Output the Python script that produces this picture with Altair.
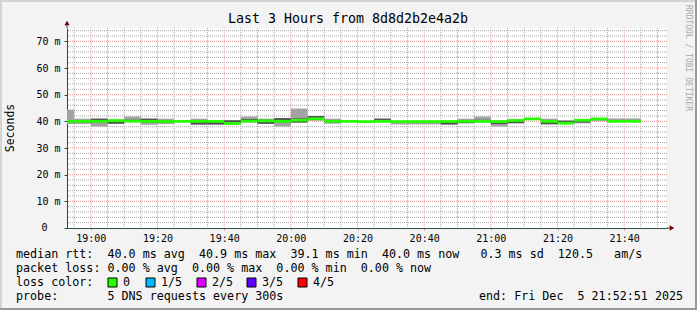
import altair as alt
import pandas as pd

# ---------------- data ----------------
bin_starts = ["18:50", "18:55", "19:00", "19:05", "19:10", "19:15", "19:20",
              "19:25", "19:30", "19:35", "19:40", "19:45", "19:50", "19:55",
              "20:00", "20:05", "20:10", "20:15", "20:20", "20:25", "20:30",
              "20:35", "20:40", "20:45", "20:50", "20:55", "21:00", "21:05",
              "21:10", "21:15", "21:20", "21:25", "21:30", "21:35", "21:40"]
ping_min = [39.0, 39.0, 38.1, 39.1, 39.7, 38.7, 39.0, 39.7, 38.8, 38.8, 38.9,
            39.6, 39.0, 38.1, 39.4, 40.4, 39.1, 39.8, 39.4, 39.7, 38.8, 38.8,
            38.8, 38.8, 39.3, 39.6, 38.1, 39.3, 40.5, 38.9, 39.0, 39.2, 40.3,
            39.8, 39.8]
ping_q1 = [39.6, 39.7, 39.6, 39.1, 39.8, 39.6, 39.6, 39.8, 38.8, 38.8, 39.0,
           39.7, 39.1, 39.6, 39.6, 40.4, 39.6, 39.9, 39.6, 39.8, 39.6, 39.6,
           39.6, 38.8, 39.3, 39.7, 39.0, 39.3, 40.6, 38.9, 39.1, 39.6, 40.4,
           39.9, 39.9]
ping_med = [40.0, 40.0, 40.0, 40.25, 40.05, 40.0, 39.95, 40.0, 40.0, 40.0, 39.2,
            40.1, 40.2, 40.0, 40.4, 40.95, 40.0, 40.0, 39.9, 40.0, 39.9, 39.9,
            39.9, 39.95, 40.0, 40.0, 39.9, 40.3, 40.9, 40.0, 39.3, 40.4, 40.9,
            40.0, 40.0]
ping_q3 = [40.4, 40.3, 41.0, 40.6, 40.6, 41.0, 40.4, 40.2, 40.4, 40.2, 40.4,
           40.9, 40.6, 41.2, 41.1, 42.0, 40.4, 40.1, 40.1, 41.0, 40.1, 40.1,
           40.1, 40.1, 40.4, 40.6, 40.2, 40.6, 41.2, 40.4, 40.2, 40.6, 41.1,
           40.3, 40.3]
ping_max = [44.4, 41.0, 41.0, 40.6, 41.8, 41.0, 41.0, 40.3, 41.0, 40.3, 40.4,
            41.8, 41.0, 41.2, 44.8, 42.0, 41.0, 40.2, 40.2, 41.0, 40.2, 40.2,
            40.2, 40.2, 41.0, 41.8, 40.3, 40.7, 41.3, 41.0, 40.4, 40.7, 41.2,
            41.1, 41.1]

y_ticks = [0, 10, 20, 30, 40, 50, 60, 70]
x_tick_labels = ["19:00", "19:20", "19:40", "20:00", "20:20", "20:40",
                 "21:00", "21:20", "21:40"]
range_start, range_end = "18:52:51", "21:52:51"

title_text = "Last 3 Hours from 8d8d2b2e4a2b"
legend_line1 = "median rtt:  40.0 ms avg  40.9 ms max  39.1 ms min  40.0 ms now   0.3 ms sd  120.5   am/s"
legend_line2 = "packet loss: 0.00 % avg  0.00 % max  0.00 % min  0.00 % now"
legend_line3 = "loss color:"
legend_line4 = "probe:       5 DNS requests every 300s"
end_text = "end: Fri Dec  5 21:52:51 2025"
loss_labels = ["0", "1/5", "2/5", "3/5", "4/5"]
loss_colors = ["#26ff00", "#00b8ff", "#dd00ff", "#5e00ff", "#ff0000"]
watermark = "RRDTOOL / TOBI OETIKER"

# ---------------- helpers ----------------
def to_min(s):
    parts = [int(p) for p in s.split(":")]
    m = (parts[0] - 18) * 60 + parts[1]
    if len(parts) > 2:
        m += parts[2] / 60.0
    return m

MONO = "DejaVu Sans Mono"
AXIS_COLOR = "#2c4d43"
ARROW = "#7f0000"
GRID = "#a8a8a8"
MGRID = "#f29494"
PL, PT = 67, 28          # plot origin in the page
W, H = 600, 200

x0, x1 = to_min(range_start), to_min(range_end)
xs = alt.Scale(domain=[x0, x1], nice=False, zero=False)
ys = alt.Scale(domain=[0, 75], nice=False, zero=True)

df = pd.DataFrame({
    "start": [to_min(s) for s in bin_starts],
    "lo": ping_min, "q1": ping_q1, "med": ping_med, "q3": ping_q3, "hi": ping_max,
})
df["end"] = df["start"] + 5

x_tick_values = [to_min(s) for s in x_tick_labels]
h_minor = pd.DataFrame({"v": [v for v in range(2, 75, 2) if v % 10]})
h_major = pd.DataFrame({"v": y_ticks[1:]})
v_minor = pd.DataFrame({"v": [v for v in range(55, 235, 5) if v % 20 and x0 < v < x1]})
v_major = pd.DataFrame({"v": x_tick_values})

yaxis = alt.Axis(values=y_ticks, title=None, grid=False,
                 labelExpr="datum.value == 0 ? '' : datum.value + ' m'",
                 labelFont=MONO, labelFontSize=10, labelColor="#000000",
                 tickColor=AXIS_COLOR, tickSize=3, labelPadding=4,
                 domainColor=AXIS_COLOR, domainWidth=1)
xaxis = alt.Axis(values=x_tick_values, title=None, grid=False,
                 labelExpr="format(floor(datum.value/60)+18,'d') + ':' + format(datum.value%60,'02d')",
                 labelFont=MONO, labelFontSize=10, labelColor="#000000",
                 tickColor="#e09090", tickSize=2, labelPadding=3, labelOverlap=False,
                 labelFlush=False, domainColor=AXIS_COLOR, domainWidth=1)

X = lambda f: alt.X(f, scale=xs, axis=xaxis)
Y = lambda f: alt.Y(f, scale=ys, axis=yaxis)

grid_hmin = alt.Chart(h_minor).mark_rule(color=GRID, strokeDash=[1, 1], strokeWidth=1).encode(y=Y("v:Q"))
grid_hmaj = alt.Chart(h_major).mark_rule(color=MGRID, strokeDash=[1, 1], strokeWidth=1).encode(y=Y("v:Q"))
grid_vmin = alt.Chart(v_minor).mark_rule(color=GRID, strokeDash=[1, 1], strokeWidth=1).encode(x=X("v:Q"))
grid_vmaj = alt.Chart(v_major).mark_rule(color=MGRID, strokeDash=[1, 1], strokeWidth=1).encode(x=X("v:Q"))

base = alt.Chart(df)
smoke_outer = base.mark_rect(color="#a3a3a3", clip=True).encode(
    x=X("start:Q"), x2="end", y=Y("lo:Q"), y2="hi")
smoke_inner = base.mark_rect(color="#505050", clip=True).encode(
    x=X("start:Q"), x2="end", y=Y("q1:Q"), y2="q3")
median = base.mark_rule(color=loss_colors[0], strokeWidth=2.8, clip=True).encode(
    x=X("start:Q"), x2="end", y=Y("med:Q"))

one = alt.Data(values=[{"k": 1}])

def txt(text, ax, ay, size=11.7, align="left", color="#000000", angle=0, font=MONO):
    return alt.Chart(one).mark_text(
        text=text.replace(" ", "\u00a0"), font=font, fontSize=size, align=align,
        baseline="middle", color=color, angle=angle).encode(
        x=alt.value(ax - PL), y=alt.value(ay - PT))

def rule(ax1, ay1, ax2, ay2, color, width=1):
    return alt.Chart(one).mark_rule(color=color, strokeWidth=width).encode(
        x=alt.value(ax1 - PL), x2=alt.value(ax2 - PL),
        y=alt.value(ay1 - PT), y2=alt.value(ay2 - PT))

def arrow(ax, ay, shape):
    return alt.Chart(one).mark_point(shape=shape, filled=True, size=28, color=ARROW, opacity=1).encode(
        x=alt.value(ax - PL), y=alt.value(ay - PT))

layers = [grid_hmin, grid_vmin, grid_hmaj, grid_vmaj, smoke_outer, smoke_inner, median]

# axis extensions and arrows
layers += [rule(PL, PT - 3, PL, PT, AXIS_COLOR), arrow(PL, PT - 5, "triangle-up"),
           rule(PL + W, PT + H, PL + W + 3, PT + H, AXIS_COLOR), arrow(PL + W + 5, PT + H, "triangle-right")]

# texts
layers += [txt(title_text, 348, 19, size=13.3, align="center"),
           txt("Seconds", 11, 128, size=11.5, align="center", angle=270),
           txt("0", 47.5, PT + H, size=10, align="right"),
           txt(legend_line1, 16, 254), txt(legend_line2, 16, 268),
           txt(legend_line3, 16, 282), txt(legend_line4, 16, 296),
           txt(end_text, 479, 296),
           txt(watermark, 688, 5, size=8, color="#a8a8a8", angle=90)]

square_left = [108, 146, 197, 247, 298]
for lab, col, sx in zip(loss_labels, loss_colors, square_left):
    layers.append(alt.Chart(one).mark_rect(fill=col, stroke="#000000", strokeWidth=1).encode(
        x=alt.value(sx - PL), x2=alt.value(sx + 9 - PL),
        y=alt.value(278 - PT), y2=alt.value(287 - PT)))
    layers.append(txt(lab, sx + 15, 282))

# frame
layers += [rule(0, 1, 697, 1, "#d4d4d4", 2), rule(1, 0, 1, 310, "#d4d4d4", 2),
           rule(696, 0, 696, 310, "#9a9a9a", 2), rule(0, 309, 697, 309, "#9a9a9a", 2)]

chart = alt.layer(*layers).properties(
    width=W, height=H,
    padding={"left": PL, "top": PT, "right": 697 - PL - W, "bottom": 310 - PT - H},
    autosize=alt.AutoSizeParams(type="none"),
    background="#f3f3f3",
).configure_view(fill="#ffffff", stroke=None)

chart.save("out.html", embed_options={"renderer": "svg", "actions": False})
